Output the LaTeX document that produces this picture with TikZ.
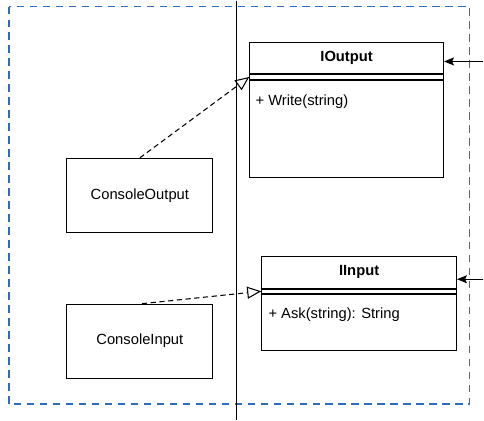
\documentclass[tikz,border=0pt]{standalone}
\usepackage{fontspec}
\setmainfont{Liberation Sans}
\usetikzlibrary{positioning,arrows.meta}
\definecolor{frameblue}{HTML}{2C6DBF}

\begin{document}
\begin{tikzpicture}[
  x=0.02cm, y=-0.02cm,
  font=\fontsize{8.4}{10}\selectfont,
  classbox/.style={draw,rectangle,minimum width=2.92cm,minimum height=1.48cm,line width=0.6pt},
  umlpart/.style={draw,rectangle,inner sep=0pt,line width=0.6pt},
  method/.style={inner sep=0pt,anchor=west},
  realizes/.style={densely dashed,line width=0.6pt,-{Triangle[open,length=0.28cm,width=0.24cm]}},
  incoming/.style={line width=0.6pt,-{Stealth[length=0.2cm,width=0.16cm,inset=0.04cm]}}]
    % boundary and divider
    \draw [frameblue,line width=1.1pt,dash pattern=on 0.15cm off 0.11cm] (9,6) rectangle (470,404);
    \coordinate (divider_top) at (237,0);
    \coordinate (divider_bottom) at (237,420);
    \draw [line width=0.6pt] (divider_top) -- (divider_bottom);

    % concrete classes
    \node (console_output) [classbox] at (140,195) {ConsoleOutput};
    \node (console_input) [classbox] at (140,341) {ConsoleInput};

    % interface IOutput
    \node (ioutput_title) [umlpart,minimum width=3.88cm,minimum height=0.62cm] at (347,57.5) {\textbf{IOutput}};
    \node (ioutput_sep) [umlpart,minimum width=3.88cm,minimum height=0.1cm,below=0cm of ioutput_title] {};
    \node (ioutput_body) [umlpart,minimum width=3.88cm,minimum height=1.94cm,below=0cm of ioutput_sep] {};
    \node (ioutput_write) [method] at ([shift={(6,22)}]ioutput_body.north west) {+ Write(string)};

    % interface IInput
    \node (iinput_title) [umlpart,minimum width=3.9cm,minimum height=0.64cm] at (359.5,272) {\textbf{IInput}};
    \node (iinput_sep) [umlpart,minimum width=3.9cm,minimum height=0.08cm,below=0cm of iinput_title] {};
    \node (iinput_body) [umlpart,minimum width=3.9cm,minimum height=1.12cm,below=0cm of iinput_sep] {};
    \node (iinput_ask) [method] at ([shift={(7,21)}]iinput_body.north west) {+ Ask(string): String};

    % realization arrows
    \draw [realizes] (console_output.north) -- (ioutput_sep.west);
    \draw [realizes] ([xshift=0.04cm]console_input.north) -- (iinput_sep.west);

    % arrows coming in from outside
    \coordinate (ioutput_in) at (484,61);
    \coordinate (iinput_in) at (484,279);
    \draw [incoming] (ioutput_in) -- (ioutput_in -| ioutput_title.east);
    \draw [incoming] (iinput_in) -- (iinput_in -| iinput_title.east);

    \useasboundingbox (0,0) rectangle (484,420);
  \end{tikzpicture}
\end{document}
